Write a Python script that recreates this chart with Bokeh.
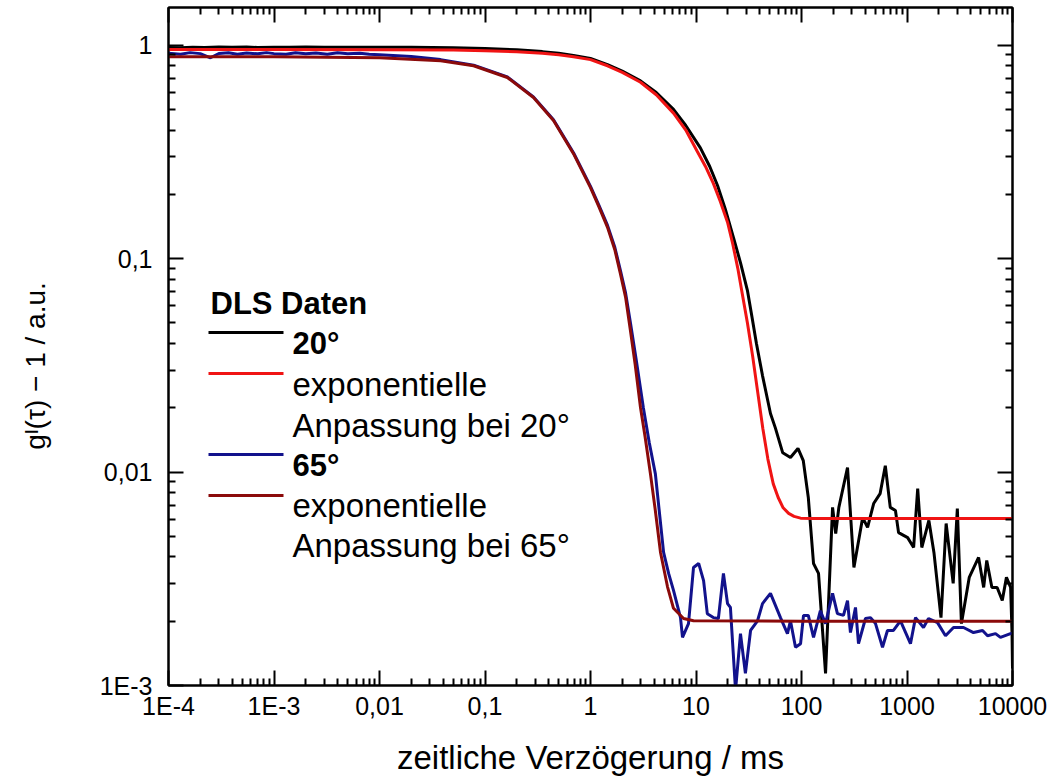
from bokeh.plotting import figure
from bokeh.models import LogAxis, CustomJSTickFormatter, Range1d, FixedTicker
from bokeh.core.properties import value
from bokeh.embed import file_html
from bokeh.resources import INLINE

# ---------------- data ----------------
# 20° DLS data (black)
x_20 = [1e-4, 1.3e-4, 1.7e-4, 2.2e-4, 3e-4, 4e-4, 5.5e-4, 7e-4, 1e-3, 1.4e-3, 2e-3, 3e-3,
        4.5e-3, 7e-3, 0.01, 0.02, 0.05, 0.1, 0.2, 0.35, 0.5, 0.69, 1.0, 1.45, 2.0, 2.98, 4.2,
        6.12, 8.0, 11.0, 13.5, 16.0, 19.0, 22.7, 26.5, 30.7, 34.0, 37.4, 42.7, 50.8, 56.5,
        66.4, 78.6, 92.6, 104, 116, 130, 145, 169, 197, 211, 226, 273, 314, 380, 423, 483,
        556, 623, 694, 777, 832, 1014, 1156, 1263, 1381, 1612, 1800, 2100, 2350, 2740, 3000,
        3280, 3890, 4770, 5330, 5700, 6380, 7150, 8000, 8760, 9600, 9900, 10000]
y_20 = [0.975, 0.972, 0.978, 0.974, 0.980, 0.976, 0.979, 0.975, 0.978, 0.976, 0.979, 0.977,
        0.978, 0.976, 0.977, 0.976, 0.972, 0.965, 0.950, 0.932, 0.915, 0.895, 0.865, 0.810,
        0.755, 0.680, 0.600, 0.500, 0.420, 0.330, 0.270, 0.220, 0.170, 0.125, 0.095, 0.071,
        0.053, 0.040, 0.0283, 0.0188, 0.0161, 0.0123, 0.0117, 0.0129, 0.0113, 0.0076,
        0.00373, 0.00335, 0.00114, 0.00683, 0.00515, 0.00683, 0.0105, 0.00357, 0.00612,
        0.0055, 0.00712, 0.00792, 0.0107, 0.00683, 0.0066, 0.0052, 0.00493, 0.00443, 0.00837,
        0.00443, 0.00593, 0.0042, 0.00208, 0.00574, 0.00301, 0.00675, 0.00195, 0.00321,
        0.00398, 0.00288, 0.00385, 0.00288, 0.00288, 0.0025, 0.00321, 0.00288, 0.00175,
        0.0012]

# exponential fit at 20° (red)
x_fit20 = [1e-4, 1e-3, 0.01, 0.05, 0.1, 0.2, 0.35, 0.5, 0.69, 1.0, 1.45, 2.0, 2.98, 4.2, 6.12,
           8.0, 10.2, 12.3, 14.6, 17.0, 19.9, 22.3, 24.9, 27.5, 30.7, 34.4, 38.3, 43.0, 48.0,
           54.0, 60.1, 67.0, 75.5, 85.0, 98.0, 130.0, 10000]
y_fit20 = [0.953, 0.953, 0.952, 0.948, 0.942, 0.930, 0.915, 0.900, 0.882, 0.855, 0.800, 0.745,
           0.670, 0.585, 0.480, 0.400, 0.320, 0.270, 0.225, 0.185, 0.148, 0.117, 0.090, 0.068,
           0.050, 0.035, 0.024, 0.016, 0.0115, 0.0088, 0.0076, 0.0068, 0.0064, 0.0062,
           0.00608, 0.00605, 0.00605]

# 65° DLS data (navy)
x_65 = [1e-4, 1.3e-4, 1.6e-4, 2e-4, 2.5e-4, 3e-4, 3.7e-4, 4.5e-4, 5.5e-4, 7e-4, 8.5e-4, 1e-3,
        1.3e-3, 1.6e-3, 2e-3, 2.5e-3, 3.2e-3, 4e-3, 5e-3, 6.5e-3, 8e-3, 0.01, 0.02, 0.038,
        0.078, 0.163, 0.288, 0.446, 0.69, 1.0, 1.2, 1.45, 1.7, 1.92, 2.15, 2.39, 2.7, 3.17,
        3.6, 4.12, 4.93, 5.5, 6.12, 7.13, 7.45, 8.49, 9.47, 10.6, 11.8, 12.8, 14.6, 16.3,
        18.2, 19.9, 21.2, 23.7, 26.4, 29.4, 32.9, 38.3, 42.7, 50.8, 63.2, 73.6, 78.6, 87.7,
        98, 104.5, 116, 130, 151, 169, 197, 219, 250, 273, 291, 325, 347, 404, 451, 503, 586,
        653, 744, 867, 1079, 1204, 1433, 1599, 1946, 2317, 2760, 3433, 4270, 5200, 5800,
        6900, 7690, 9570, 10000]
y_65 = [0.915, 0.905, 0.922, 0.912, 0.872, 0.913, 0.921, 0.905, 0.918, 0.910, 0.922, 0.912,
        0.905, 0.920, 0.910, 0.918, 0.906, 0.920, 0.912, 0.915, 0.905, 0.902, 0.885, 0.855,
        0.805, 0.710, 0.572, 0.447, 0.313, 0.218, 0.178, 0.143, 0.113, 0.088, 0.069, 0.050,
        0.034, 0.020, 0.0138, 0.0098, 0.0042, 0.00335, 0.00279, 0.00208, 0.00168, 0.00195,
        0.00357, 0.00373, 0.0031, 0.00217, 0.00208, 0.00206, 0.00335, 0.00242, 0.00232,
        0.00095, 0.00175, 0.00114, 0.00181, 0.00201, 0.00242, 0.0027, 0.00208, 0.00175,
        0.00201, 0.00151, 0.00157, 0.00213, 0.00213, 0.00168, 0.00224, 0.00195, 0.0027,
        0.00217, 0.00213, 0.0025, 0.00177, 0.00232, 0.00157, 0.00206, 0.00208, 0.00195,
        0.00151, 0.00181, 0.00181, 0.00201, 0.00157, 0.00208, 0.00187, 0.00206, 0.00197,
        0.00171, 0.00187, 0.00187, 0.00177, 0.00181, 0.00171, 0.00175, 0.00168, 0.00175,
        0.00176]

# exponential fit at 65° (dark red)
x_fit65 = [1e-4, 1e-3, 0.01, 0.038, 0.078, 0.163, 0.288, 0.446, 0.69, 1.0, 1.2, 1.45, 1.7,
           1.92, 2.15, 2.39, 2.65, 2.98, 3.3, 3.7, 4.1, 4.61, 5.37, 6.12, 7.62, 9.47, 100,
           10000]
y_fit65 = [0.883, 0.882, 0.872, 0.845, 0.800, 0.705, 0.568, 0.443, 0.310, 0.215, 0.175, 0.140,
           0.110, 0.085, 0.066, 0.046, 0.032, 0.020, 0.0145, 0.0098, 0.0067, 0.0042, 0.0029,
           0.0023, 0.00206, 0.00201, 0.0020, 0.0020]

x_major = [1e-4, 1e-3, 1e-2, 1e-1, 1, 10, 100, 1000, 10000]
y_major = [1e-3, 1e-2, 1e-1, 1]

legend_title = "DLS Daten"
legend_bold = ["20°", "65°"]
legend_plain = ["exponentielle", "Anpassung bei 20°", "exponentielle", "Anpassung bei 65°"]

# ---------------- figure ----------------
FONT = "Liberation Sans"
X0, X1 = 1e-4, 1e4
Y0, Y1 = 1e-3, 1.5

p = figure(width=1050, height=780, x_axis_type="log", y_axis_type="log",
           x_range=Range1d(X0, X1), y_range=Range1d(Y0, Y1),
           output_backend="svg", toolbar_location=None,
           min_border_left=168, min_border_right=38, min_border_top=7, min_border_bottom=95)
p.xgrid.visible = False
p.ygrid.visible = False
p.outline_line_color = "black"
p.outline_line_width = 2
p.background_fill_color = "white"
p.border_fill_color = "white"


def minor_of(majors):
    out = []
    for m in majors[:-1]:
        out += [k * m for k in range(2, 10)]
    return out


xt = FixedTicker(ticks=x_major, minor_ticks=minor_of(x_major))
yt = FixedTicker(ticks=y_major, minor_ticks=minor_of(y_major))

fmt_code = """
const e = Math.round(Math.log10(tick));
if (e <= -3) return "1E" + e;
if (e < 0) return "0," + "0".repeat(-e - 1) + "1";
return String(Math.round(Math.pow(10, e)));
"""


def style(ax, labels):
    ax.axis_line_width = 2
    ax.axis_line_color = "black"
    ax.major_tick_in = 15
    ax.major_tick_out = 0
    ax.minor_tick_in = 7
    ax.minor_tick_out = 0
    ax.major_tick_line_width = 2
    ax.minor_tick_line_width = 2
    ax.major_tick_line_color = "black"
    ax.minor_tick_line_color = "black"
    if labels:
        ax.formatter = CustomJSTickFormatter(code=fmt_code)
        ax.major_label_text_font = FONT
        ax.major_label_text_font_size = "25px"
        ax.major_label_text_color = "black"
        ax.axis_label_text_font = FONT
        ax.axis_label_text_font_style = "normal"
        ax.axis_label_text_color = "black"
    else:
        ax.formatter = CustomJSTickFormatter(code="return '';")
        ax.major_label_text_font_size = "0px"
        ax.major_label_standoff = 0


xa = p.xaxis[0]
xa.ticker = xt
style(xa, True)
xa.major_label_standoff = 6
xa.axis_label = "zeitliche Verzögerung / ms"
xa.axis_label_text_font_size = "33px"
xa.axis_label_standoff = 16

ya = p.yaxis[0]
ya.ticker = yt
style(ya, True)
ya.major_label_standoff = 16
ya.axis_label = "gᴵ(τ) − 1 / a.u." + "\u00a0" * 5
ya.axis_label_text_font_size = "28px"
ya.axis_label_standoff = 46

top = LogAxis(ticker=xt)
style(top, False)
p.add_layout(top, "above")
right = LogAxis(ticker=yt)
style(right, False)
p.add_layout(right, "right")

# ---------------- curves ----------------
C_20, C_F20, C_65, C_F65 = "black", "#f01414", "#12128c", "#8b0a0a"
LW = 3
p.line(x_20, y_20, line_color=C_20, line_width=LW)
p.line(x_fit20, y_fit20, line_color=C_F20, line_width=LW)
p.line(x_65, y_65, line_color=C_65, line_width=LW)
p.line(x_fit65, y_fit65, line_color=C_F65, line_width=LW)

# ---------------- hand-made legend (positions given in frame pixels) ----------------
FL, FB = 168.0, 685.0          # frame left / bottom in page pixels
PX_DEC_X, PX_DEC_Y = 105.5, 213.5


def xd(px):
    return 10 ** ((px - FL) / PX_DEC_X - 4)


def yd(py):
    return 10 ** ((FB - py) / PX_DEC_Y - 3)


sample_px = (208, 283)
sample_rows = [332, 373, 454, 495]
sample_cols = [C_20, C_F20, C_65, C_F65]
for row, col in zip(sample_rows, sample_cols):
    p.line([xd(sample_px[0]), xd(sample_px[1])], [yd(row), yd(row)], line_color=col, line_width=3)

p.text(x=[xd(210)], y=[yd(303)], text=[legend_title], text_font=value(FONT),
       text_font_style="bold", text_font_size="31px", text_baseline="alphabetic",
       text_color="black")
p.text(x=[xd(292)] * 2, y=[yd(343), yd(465)], text=legend_bold, text_font=value(FONT),
       text_font_style="bold", text_font_size="31px", text_baseline="alphabetic",
       text_color="black")
p.text(x=[xd(292)] * 4, y=[yd(384), yd(425), yd(505), yd(545)], text=legend_plain,
       text_font=value(FONT), text_font_size="33px", text_baseline="alphabetic",
       text_color="black")

open("out.html", "w").write(file_html(p, INLINE))
